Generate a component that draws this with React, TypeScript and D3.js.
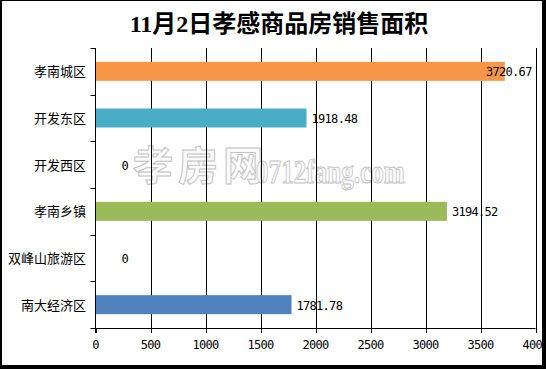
import React from 'react';
import * as d3 from 'd3';

// 11月2日 sales area by district
const titleText = '11月2日孝感商品房销售面积';
const categories = ['孝南城区', '开发东区', '开发西区', '孝南乡镇', '双峰山旅游区', '南大经济区'];
const areas = [3720.67, 1918.48, 0, 3194.52, 0, 1781.78];
const barColors = ['#F79646', '#4BACC6', '#8064A2', '#9BBB59', '#C0504D', '#4F81BD'];
const xMax = 4000;

const W = 546, H = 369;
const plot = { left: 95.5, right: 535.5, top: 48, bottom: 328 };
const monoFont = '"DejaVu Sans Mono", monospace';
const cjkFont = '"Noto Sans CJK SC", sans-serif';

export default function App() {
  const x = d3.scaleLinear().domain([0, xMax]).range([plot.left, plot.right]);
  const pad = 1 - 19 / ((plot.bottom - plot.top) / categories.length);
  const y = d3.scaleBand<string>()
    .domain(categories)
    .range([plot.top, plot.bottom])
    .paddingInner(pad)
    .paddingOuter(pad / 2);
  const step = y.step();
  const ticks = x.ticks(8);
  const fmt = d3.format('.2f');

  return (
    <svg width={W} height={H} style={{ position: 'absolute', left: 0, top: 0, display: 'block' }}>
      <rect x={0} y={0} width={W} height={H} fill="#000" />
      <rect x={2} y={1} width={540} height={364} fill="#fff" />

      <text x={279} y={32} textAnchor="middle" fontSize={24} fontWeight="bold"
        fontFamily={'"Liberation Serif", "Noto Sans CJK SC", serif'} fill="#000">{titleText}</text>

      {/* watermark */}
      <g fill="#fafafa" stroke="#c4c4c4" strokeWidth={1}>
        <text x={133} y={180} fontSize={40} fontWeight="bold" fontFamily={cjkFont} letterSpacing={5}>孝房网</text>
        <text transform="translate(256,183) scale(0.74,1)" fontSize={34} fontWeight="bold"
          fontFamily={'"Liberation Serif", serif'}>0712fang.com</text>
      </g>

      {/* gridlines */}
      {ticks.filter(t => t > 0).map(t => (
        <line key={'g' + t} x1={Math.round(x(t)) + 0.5} x2={Math.round(x(t)) + 0.5}
          y1={plot.top} y2={plot.bottom} stroke="#000" strokeWidth={1} />
      ))}

      {/* bars */}
      {categories.map((c, i) => (
        areas[i] > 0 ? (
          <rect key={'b' + c} x={x(0)} y={y(c)} width={x(areas[i]) - x(0)}
            height={y.bandwidth()} fill={barColors[i]} />
        ) : null
      ))}

      {/* value labels */}
      {categories.map((c, i) => {
        const v = areas[i];
        const cy = (y(c) as number) + y.bandwidth() / 2 + 5;
        const label = v === 0 ? '0' : fmt(v);
        const w = label.length * 6.5;
        let lx = v === 0 ? x(0) + 26 : x(v) + 5;
        if (lx + w > plot.right - 4) lx = plot.right - 4 - w;
        return (
          <text key={'v' + c} x={lx} y={cy} fontSize={12} letterSpacing={-0.7}
            fontFamily={monoFont} fill="#000">{label}</text>
        );
      })}

      {/* y axis */}
      <line x1={plot.left} x2={plot.left} y1={plot.top} y2={plot.bottom + 5} stroke="#000" />
      {d3.range(categories.length + 1).map(k => {
        const yy = Math.round(plot.top + k * step) + 0.5;
        return <line key={'yt' + k} x1={plot.left - 5} x2={plot.left} y1={yy} y2={yy} stroke="#000" />;
      })}
      {categories.map(c => (
        <text key={'c' + c} x={86} y={(y(c) as number) + y.bandwidth() / 2 + 5} textAnchor="end"
          fontSize={13} fontFamily={cjkFont} fill="#000">{c}</text>
      ))}

      {/* x axis */}
      <line x1={plot.left} x2={plot.right} y1={plot.bottom + 0.5} y2={plot.bottom + 0.5} stroke="#000" />
      {ticks.map(t => (
        <g key={'xt' + t}>
          <line x1={Math.round(x(t)) + 0.5} x2={Math.round(x(t)) + 0.5} y1={plot.bottom}
            y2={plot.bottom + 5} stroke="#000" />
          <text x={x(t)} y={349} textAnchor="middle" fontSize={12} letterSpacing={-0.7}
            fontFamily={monoFont} fill="#000">{t}</text>
        </g>
      ))}

      {/* right/bottom frame drawn over tick labels */}
      <rect x={542} y={0} width={4} height={H} fill="#000" />
    </svg>
  );
}
